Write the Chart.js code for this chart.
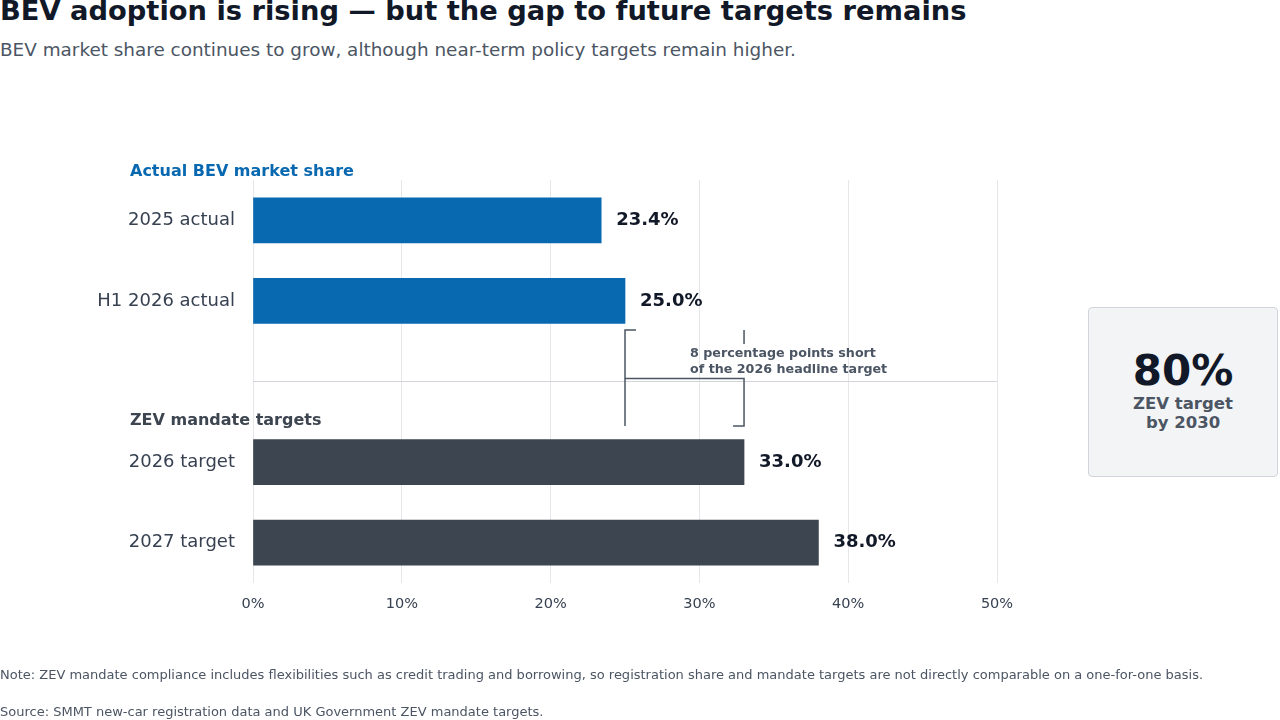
<!DOCTYPE html>
<html><head><meta charset="utf-8">
<script src="https://cdn.jsdelivr.net/npm/chart.js@4/dist/chart.umd.min.js"></script>
<style>
  body { margin:0; width:1280px; height:720px; background:#fff; font-family:"DejaVu Sans", sans-serif; position:relative; overflow:hidden; }
  .t { position:absolute; white-space:nowrap; }
  #wrap { position:absolute; left:0; top:0; width:1280px; height:720px; }
  .box { position:absolute; left:1088px; top:307px; width:188px; height:168px; background:#f3f4f6; border:1px solid #d1d5db; border-radius:4px; text-align:center; }
</style></head>
<body>
<div class="t" style="left:0;top:-5px;font-size:27.3px;font-weight:bold;color:#111827">BEV adoption is rising — but the gap to future targets remains</div>
<div class="t" style="left:0;top:39px;font-size:18.4px;color:#4b5563">BEV market share continues to grow, although near-term policy targets remain higher.</div>
<div id="wrap"><canvas id="c"></canvas></div>
<div class="box">
  <div style="margin-top:40px;font-size:42px;font-weight:bold;color:#111827;line-height:46px">80%</div>
  <div style="font-size:16.5px;font-weight:bold;color:#4b5563;line-height:19px">ZEV target<br>by 2030</div>
</div>
<div class="t" style="left:0;top:667px;font-size:13px;color:#4b5563">Note: ZEV mandate compliance includes flexibilities such as credit trading and borrowing, so registration share and mandate targets are not directly comparable on a one-for-one basis.</div>
<div class="t" style="left:0;top:704px;font-size:13px;color:#4b5563">Source: SMMT new-car registration data and UK Government ZEV mandate targets.</div>
<script>
const categories = ["2025 actual", "H1 2026 actual", "", "2026 target", "2027 target"];
const shares = [23.4, 25.0, null, 33.0, 38.0];
const barColors = ["#0868b0", "#0868b0", "#fff", "#3d4550", "#3d4550"];
const xTicks = [0, 10, 20, 30, 40, 50];
const gapFrom = 25.0, gapTo = 33.0;

const F = '"DejaVu Sans", sans-serif';

const extras = {
  id: "extras",
  beforeDatasetsDraw(chart) {
    const { ctx, scales: { x, y }, chartArea: a } = chart;
    const yc = y.getPixelForValue(2);
    ctx.save();
    ctx.strokeStyle = "#d1d5db"; ctx.lineWidth = 1;
    ctx.beginPath(); ctx.moveTo(a.left, yc); ctx.lineTo(a.right, yc); ctx.stroke();
    ctx.restore();
  },
  afterDatasetsDraw(chart) {
    const { ctx, scales: { x, y } } = chart;
    ctx.save();
    ctx.font = `bold 18px ${F}`; ctx.fillStyle = "#111827"; ctx.textBaseline = "middle";
    shares.forEach((v, i) => {
      if (v == null) return;
      ctx.fillText(v.toFixed(1) + "%", x.getPixelForValue(v) + 15, y.getPixelForValue(i));
    });
    ctx.textBaseline = "alphabetic";
    ctx.font = `bold 16px ${F}`;
    ctx.fillStyle = "#0868b0"; ctx.fillText("Actual BEV market share", 130, 176);
    ctx.fillStyle = "#3d4550"; ctx.fillText("ZEV mandate targets", 130, 425);
    const x1 = x.getPixelForValue(gapFrom), x2 = x.getPixelForValue(gapTo);
    const top = y.getPixelForValue(1) + 29, bot = y.getPixelForValue(3) - 36;
    const mid = y.getPixelForValue(2) - 3;
    ctx.strokeStyle = "#4b5563"; ctx.lineWidth = 1.5;
    ctx.beginPath();
    ctx.moveTo(x1 + 11, top); ctx.lineTo(x1, top); ctx.lineTo(x1, bot);
    ctx.moveTo(x1, mid); ctx.lineTo(x2, mid); ctx.lineTo(x2, bot); ctx.lineTo(x2 - 11, bot);
    ctx.moveTo(x2, top); ctx.lineTo(x2, top + 14);
    ctx.stroke();
    ctx.font = `bold 12.7px ${F}`; ctx.fillStyle = "#4b5563";
    ctx.fillText((gapTo - gapFrom).toFixed(0) + " percentage points short", 690, 357);
    ctx.fillText("of the 2026 headline target", 690, 373);
    ctx.restore();
  }
};

new Chart(document.getElementById("c"), {
  type: "bar",
  data: { labels: categories, datasets: [{ data: shares, backgroundColor: barColors, barThickness: 45 }] },
  options: {
    indexAxis: "y", responsive: true, maintainAspectRatio: false, animation: false,
    layout: { padding: { top: 180, right: 283, left: 0, bottom: 0 } },
    plugins: { legend: { display: false }, tooltip: { enabled: false } },
    scales: {
      x: {
        min: 0, max: 50,
        afterBuildTicks: (s) => { s.ticks = xTicks.map(v => ({ value: v })); },
        afterFit: (s) => { s.height = 137; },
        grid: { color: "#e5e7eb", drawTicks: false },
        border: { display: false },
        ticks: { padding: 13, color: "#374151", font: { family: F, size: 14.5 }, callback: (v) => v + "%" }
      },
      y: {
        afterFit: (s) => { s.width = 253; },
        grid: { display: false },
        border: { display: false },
        ticks: { padding: 10, color: "#374151", font: { family: F, size: 18 } }
      }
    }
  },
  plugins: [extras]
});
</script>
</body></html>
